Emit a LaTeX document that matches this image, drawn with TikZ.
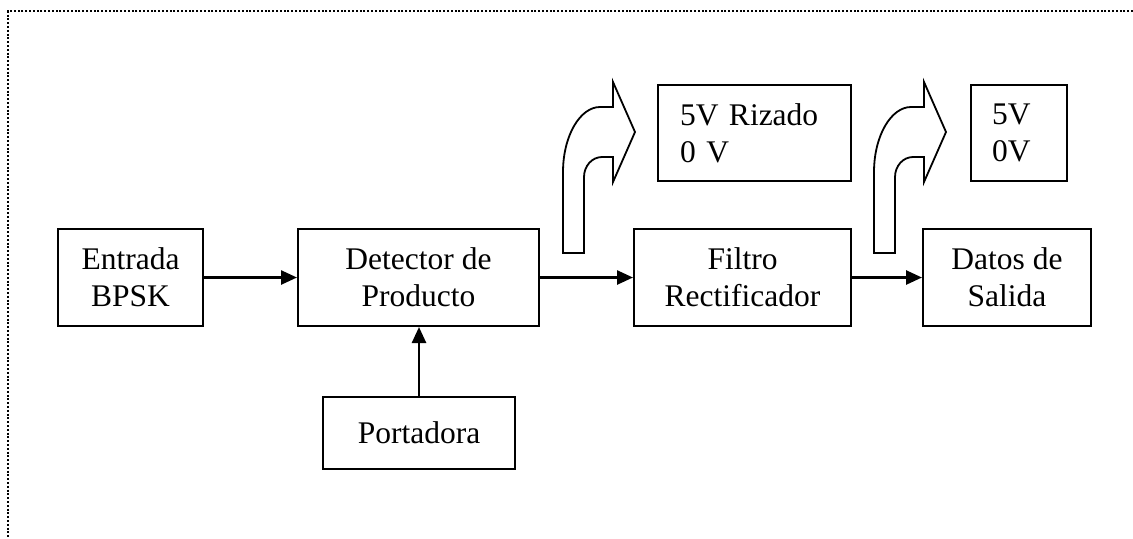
\documentclass[tikz,border=0pt]{standalone}
\usepackage{fontspec}
\setmainfont{Liberation Serif}
\usetikzlibrary{arrows.meta,positioning}
\newcommand\bentarrow[1]{%
\begin{scope}[shift={(#1)}]
\draw[line width=0.9pt,line join=miter] (0,0) -- (0,-81) .. controls (0,-117) and (17,-146) .. (37,-146) -- (50,-146) -- (50,-171) -- (72,-121) -- (50,-71) -- (50,-96) -- (39,-96) .. controls (29,-96) and (21,-87) .. (21,-76) -- (21,0) -- cycle;
\end{scope}
}

\begin{document}
\begin{tikzpicture}[x=0.5pt,y=-0.5pt,
	every node/.style={font=\fontsize{15.75}{18.5}\selectfont},
	block/.style={draw,line width=1pt,align=center,inner sep=0pt,minimum height=48.5pt},
	level/.style={draw,line width=1pt,align=left,inner ysep=0pt,minimum height=48pt},
	flow/.style={line width=1.3pt,-{Triangle[length=8pt,width=7pt]}}]
	%% page and dotted frame
	\useasboundingbox (0,0) rectangle (1133,538);
	\draw[line width=1pt,dash pattern=on 1pt off 0.9pt] (1133,11) -- (8,11) -- (8,538);

	%% main chain
	\node[block,minimum width=72.5pt] (entrada) at (130.5,277.5) {Entrada\\BPSK};
	\node[block,minimum width=120.5pt] (detector) at (418.5,277.5) {Detector de\\Producto};
	\node[block,minimum width=108.5pt] (filtro) at (742.5,277.5) {Filtro\\Rectificador};
	\node[block,minimum width=84pt] (datos) at (1007,277.5) {Datos de\\Salida};
	\node[block,minimum width=96pt,minimum height=36pt] (portadora) at (419,433) {Portadora};

	%% levels
	\node[level,text width=74.5pt,inner xsep=11pt] (rizado) at (754.5,133) {5V Rizado\\0 V};
	\node[level,text width=27pt,inner xsep=10.5pt] (niveles) at (1019,133) {5V\\0V};

	\draw[flow] (entrada) -- (detector);
	\draw[flow] (detector) -- (filtro);
	\draw[flow] (filtro) -- (datos);
	\draw[flow] (portadora.north) -- (portadora.north |- detector.south);

	% bent arrows up to the levels
	\bentarrow{563,253}
	\bentarrow{874,253}
\end{tikzpicture}
\end{document}
